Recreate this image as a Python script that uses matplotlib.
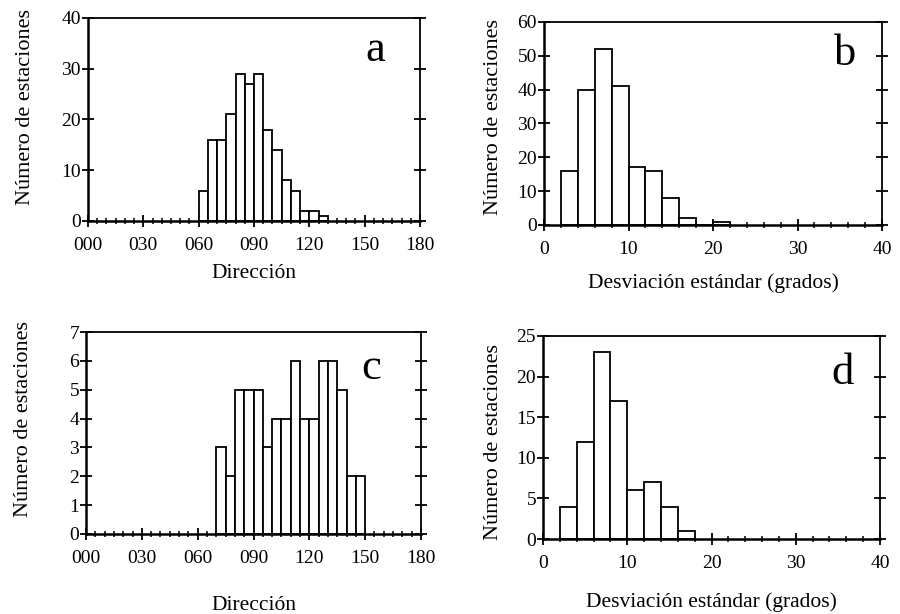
import matplotlib.pyplot as plt
import numpy as np
from matplotlib.ticker import MultipleLocator

plt.rcParams['font.family'] = ['Liberation Serif', 'DejaVu Serif']

# panel a: direccion, bins de 5 grados desde 060
dir_a_edges = [60, 65, 70, 75, 80, 85, 90, 95, 100, 105, 110, 115, 120, 125]
dir_a_counts = [6, 16, 16, 21, 29, 27, 29, 18, 14, 8, 6, 2, 2, 1]

# panel b: desviacion estandar, bins de 2 grados
std_b_edges = [2, 4, 6, 8, 10, 12, 14, 16, 18, 20]
std_b_counts = [16, 40, 52, 41, 17, 16, 8, 2, 0, 1]

# panel c
dir_c_edges = [70, 75, 80, 85, 90, 95, 100, 105, 110, 115, 120, 125, 130, 135, 140, 145]
dir_c_counts = [3, 2, 5, 5, 5, 3, 4, 4, 6, 4, 4, 6, 6, 5, 2, 2]

# panel d
std_d_edges = [2, 4, 6, 8, 10, 12, 14, 16]
std_d_counts = [4, 12, 23, 17, 6, 7, 4, 1]

dir_ticks = [0, 30, 60, 90, 120, 150, 180]
dir_labels = ['000', '030', '060', '090', '120', '150', '180']

W, H = 900, 614
fig = plt.figure(figsize=(9, 6.14), dpi=100)


def box(l, t, r, b):
    # pixel box -> figure fraction
    return [l / W, 1 - b / H, (r - l) / W, (b - t) / H]


def panel(rect, edges, counts, width, xlim, ylim, ystep, xmaj, xmin,
          letter, letter_xy, xlabel, xlab_y, ylab_xy):
    ax = fig.add_axes(box(*rect))
    ax.bar(edges, counts, width=width, align='edge', facecolor='white',
           edgecolor='black', linewidth=1.3, zorder=2)
    ax.set_xlim(*xlim)
    ax.set_ylim(0, ylim)
    ax.yaxis.set_major_locator(MultipleLocator(ystep))
    ax.xaxis.set_major_locator(MultipleLocator(xmaj))
    ax.xaxis.set_minor_locator(MultipleLocator(xmin))
    for s in ax.spines.values():
        s.set_linewidth(1.3)
    ax.spines['left'].set_linewidth(1.8)
    ax.spines['bottom'].set_linewidth(1.8)
    ax.tick_params(axis='x', which='major', direction='inout', length=9, width=1.3,
                   labelsize=14, pad=7)
    ax.tick_params(axis='x', which='minor', direction='inout', length=5, width=1.1)
    ax.tick_params(axis='y', which='major', direction='inout', length=8, width=1.3,
                   labelsize=14, pad=1, right=True)
    ax.set_ylabel('Número de estaciones', fontsize=16)
    ax.yaxis.set_label_coords(*ylab_xy)
    ax.text(letter_xy[0], letter_xy[1], letter, transform=ax.transAxes, fontsize=32,
            ha='center', va='center')
    fig.text((rect[0] + rect[2]) / 2 / W + 0.0, 1 - xlab_y / H, xlabel,
             fontsize=15.5, ha='center', va='center')
    return ax


ax_a = panel((88, 18, 420, 221), dir_a_edges, dir_a_counts, 5, (0, 180), 40, 10,
             30, 5, 'a', (0.864, 0.84), 'Dirección', 273, (-0.16, 0.56))
ax_a.set_xticks(dir_ticks)
ax_a.set_xticklabels(dir_labels)

ax_b = panel((544, 22, 882, 225), std_b_edges, std_b_counts, 2, (0, 40), 60, 10,
             10, 2, 'b', (0.89, 0.84), 'Desviación estándar (grados)', 283,
             (-0.121, 0.53))

ax_c = panel((86, 332, 421, 534), dir_c_edges, dir_c_counts, 5, (0, 180), 7, 1,
             30, 5, 'c', (0.85, 0.82), 'Dirección', 605, (-0.158, 0.57))
ax_c.set_xticks(dir_ticks)
ax_c.set_xticklabels(dir_labels)

ax_d = panel((543, 336, 880, 539), std_d_edges, std_d_counts, 2, (0, 40), 25, 5,
             10, 2, 'd', (0.89, 0.82), 'Desviación estándar (grados)', 602,
             (-0.119, 0.48))

fig.savefig('out.png', dpi=100)
